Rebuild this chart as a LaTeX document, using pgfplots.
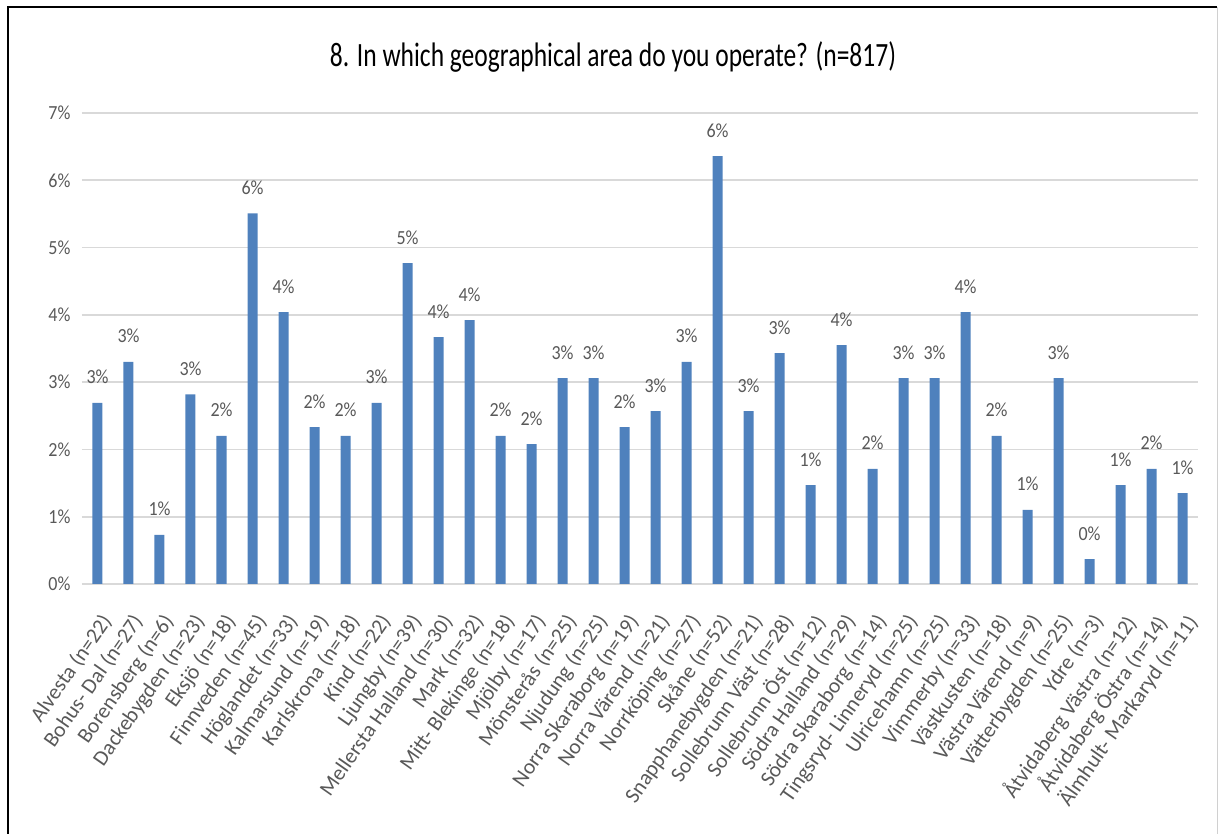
\documentclass[border=0pt]{standalone}
\usepackage{fontspec}
\setmainfont{Carlito}
\newfontfamily\titlefont[FakeStretch=0.75]{Carlito}
\newfontfamily\tickfont[FakeStretch=0.9]{Carlito}
\usepackage{pgfplots}
\usepackage{pgfplotstable}
\pgfplotsset{compat=1.18}
\definecolor{barblue}{HTML}{4F81BD}
\definecolor{gridgray}{HTML}{D9D9D9}
\definecolor{txtgray}{HTML}{595959}
\definecolor{framegray}{HTML}{D0D0D0}

\pgfplotstableread{
x y
0 2.69
1 3.30
2 0.73
3 2.82
4 2.20
5 5.51
6 4.04
7 2.33
8 2.20
9 2.69
10 4.77
11 3.67
12 3.92
13 2.20
14 2.08
15 3.06
16 3.06
17 2.33
18 2.57
19 3.30
20 6.36
21 2.57
22 3.43
23 1.47
24 3.55
25 1.71
26 3.06
27 3.06
28 4.04
29 2.20
30 1.10
31 3.06
32 0.37
33 1.47
34 1.71
35 1.35
}\areadata

\begin{document}
\begin{tikzpicture}[x=1pt,y=1pt]
\path[use as bounding box] (-82,-250) rectangle (1136,584);
\draw[black, line width=2.2pt] (-74,-252) -- (-74,577) -- (1135,577);
\draw[framegray, line width=1pt] (1135,577) -- (1135,-252);
\begin{axis}[
  at={(0,0)}, anchor=south west,
  scale only axis,
  width=1116pt, height=471pt,
  xmin=-0.5, xmax=35.5,
  ymin=0, ymax=7,
  /pgf/number format/assume math mode=true,
  axis line style={draw=none},
  tick style={draw=none},
  ymajorgrids,
  major grid style={gridgray, line width=1.6pt},
  ytick={0,1,2,3,4,5,6,7},
  yticklabels={0\%,1\%,2\%,3\%,4\%,5\%,6\%,7\%},
  yticklabel style={font=\tickfont\fontsize{20}{24}\selectfont, text=txtgray, xshift=-8pt},
  xtick={0,...,35},
  xticklabels={{Alvesta (n=22)},{Bohus- Dal (n=27)},{Borensberg (n=6)},{Dackebygden (n=23)},{Eksjö (n=18)},{Finnveden (n=45)},{Höglandet (n=33)},{Kalmarsund (n=19)},{Karlskrona (n=18)},{Kind (n=22)},{Ljungby (n=39)},{Mellersta Halland (n=30)},{Mark (n=32)},{Mitt- Blekinge (n=18)},{Mjölby (n=17)},{Mönsterås (n=25)},{Njudung (n=25)},{Norra Skaraborg (n=19)},{Norra Värend (n=21)},{Norrköping (n=27)},{Skåne (n=52)},{Snapphanebygden (n=21)},{Sollebrunn Väst (n=28)},{Sollebrunn Öst (n=12)},{Södra Halland (n=29)},{Södra Skaraborg (n=14)},{Tingsryd- Linneryd (n=25)},{Ulricehamn (n=25)},{Vimmerby (n=33)},{Västkusten (n=18)},{Västra Värend (n=9)},{Vätterbygden (n=25)},{Ydre (n=3)},{Åtvidaberg Västra (n=12)},{Åtvidaberg Östra (n=14)},{Älmhult- Markaryd (n=11)}},
  xticklabel style={font=\fontsize{21.5}{24}\selectfont, text=txtgray, xshift=2pt, yshift=-28pt, rotate=55, anchor=north east, inner sep=0pt},
  clip=false,
]
\addplot[ybar, bar width=10pt, fill=barblue, draw=none,
  nodes near coords={\pgfmathprintnumber[fixed,precision=0]{\pgfplotspointmeta}\%},
  every node near coord/.append style={font=\tickfont\fontsize{20}{24}\selectfont, text=txtgray, anchor=base, inner sep=0pt, yshift=19pt},
] table[x=x,y=y] {\areadata};
\end{axis}
\node[font=\titlefont\fontsize{34}{40}\selectfont, anchor=base, text=black] at (531,517) {8. In which geographical area do you operate? (n=817)};
\end{tikzpicture}
\end{document}
